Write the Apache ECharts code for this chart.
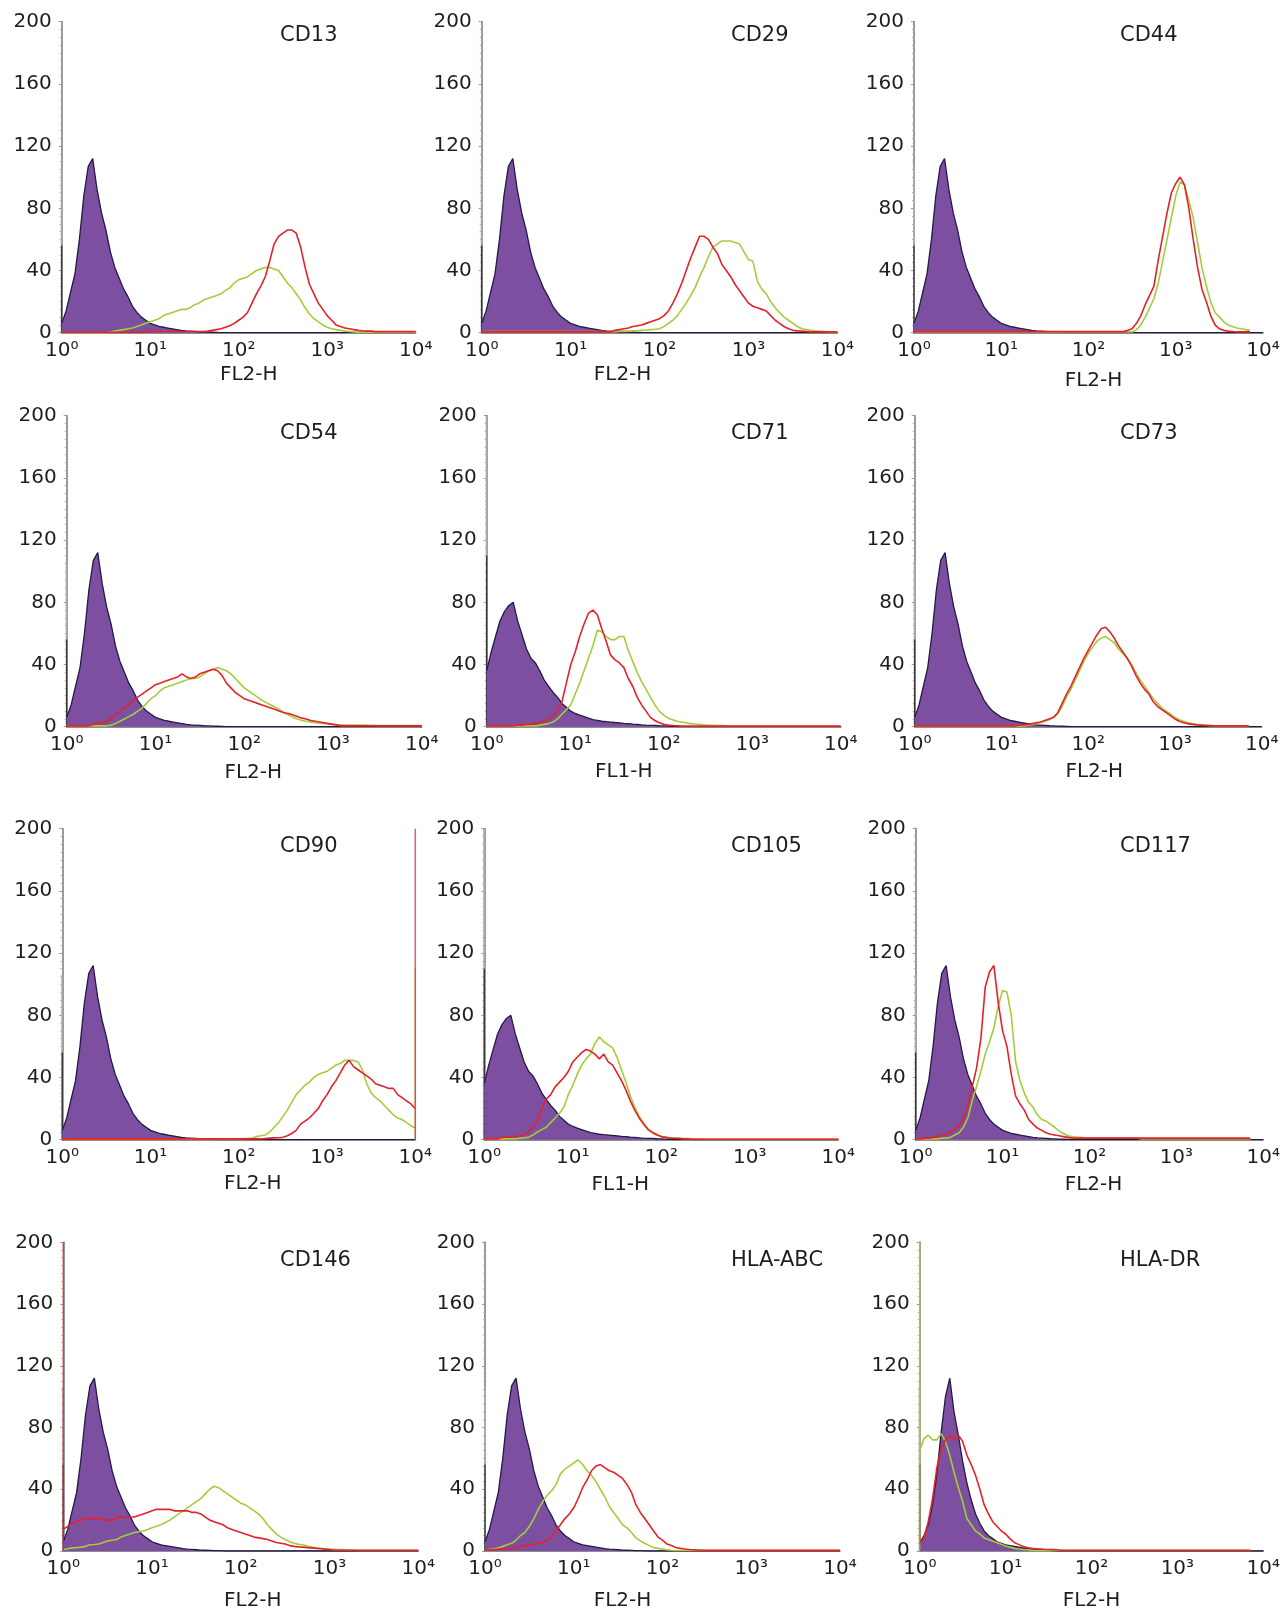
<!DOCTYPE html>
<html>
<head>
<meta charset="utf-8">
<title>Flow cytometry histograms</title>
<script src="https://cdn.jsdelivr.net/npm/echarts@6.0.0/dist/echarts.min.js"></script>
<style>
  html, body { margin: 0; padding: 0; background: #fff; }
  #chart { width: 1283px; height: 1612px; }
</style>
</head>
<body>
<div id="chart"></div>
<script>
// panels, read left to right, top to bottom
const markers = ['CD13', 'CD29', 'CD44', 'CD54', 'CD71', 'CD73', 'CD90', 'CD105', 'CD117', 'CD146', 'HLA-ABC', 'HLA-DR'];
const channels = ['FL2-H', 'FL2-H', 'FL2-H', 'FL2-H', 'FL1-H', 'FL2-H', 'FL2-H', 'FL1-H', 'FL2-H', 'FL2-H', 'FL2-H', 'FL2-H'];
const yTicks = [0, 40, 80, 120, 160, 200];

// channel positions in decades (10^0 .. 10^4), one bin every 0.05 decade
const decades = Array.from({ length: 81 }, (_, i) => +(i * 0.05).toFixed(2));

// isotype controls (purple filled)
const isotypeFL2 = [
  6, 14, 26, 38, 60, 88, 107, 112, 92, 77, 66, 52, 42, 35, 28, 23, 17, 13, 10, 8,
  6, 5, 4, 3.5, 3, 2.5, 2, 1.5, 1.2, 1, 0.8, 0.6, 0.5, 0.4, 0.3, 0.2, 0.1, 0, 0, 0,
  0, 0, 0, 0, 0, 0, 0, 0, 0, 0, 0, 0, 0, 0, 0, 0, 0, 0, 0, 0,
  0, 0, 0, 0, 0, 0, 0, 0, 0, 0, 0, 0, 0, 0, 0, 0, 0, 0, 0, 0,
  0
];
const isotypeFL1 = [
  36, 48, 58, 68, 74, 78, 80, 68, 59, 50, 44, 41, 36, 30, 26, 22, 19, 15, 12.5, 10,
  8.5, 7.5, 6.5, 5.5, 4.5, 4, 3.5, 3.2, 3, 2.7, 2.5, 2.2, 2, 1.7, 1.5, 1.2, 1, 0.9, 0.8, 0.6,
  0.5, 0.4, 0.3, 0.2, 0, 0, 0, 0, 0, 0, 0, 0, 0, 0, 0, 0, 0, 0, 0, 0,
  0, 0, 0, 0, 0, 0, 0, 0, 0, 0, 0, 0, 0, 0, 0, 0, 0, 0, 0, 0,
  0
];
const isotypeDR = [
  5, 10, 17, 30, 50, 77, 100, 112, 90, 75, 58, 44, 33, 24, 18, 13, 10, 8, 6, 5,
  4, 3.5, 3, 2.5, 2, 1.7, 1.5, 1.2, 1, 0.7, 0.5, 0.3, 0, 0, 0, 0, 0, 0, 0, 0,
  0, 0, 0, 0, 0, 0, 0, 0, 0, 0, 0, 0, 0, 0, 0, 0, 0, 0, 0, 0,
  0, 0, 0, 0, 0, 0, 0, 0, 0, 0, 0, 0, 0, 0, 0, 0, 0, 0, 0, 0,
  0
];

// green and red histograms
const greenCD13 = [
  0, 0, 0, 0, 0, 0, 0, 0, 0, 0, 0, 0.5, 1, 1.5, 2, 2.5, 3, 4, 5, 6,
  7, 8, 9, 11, 12, 13, 14, 15, 15, 16, 18, 19, 21, 22, 23, 24, 25, 27, 29, 32,
  34, 35, 36, 38, 40, 41, 42, 42, 41, 40, 36, 32, 29, 25, 21, 16, 12, 9, 7, 5,
  3.5, 2.5, 2, 1.5, 1, 0.8, 0.5, 0.3, 0.3, 0.3, 0.3, 0.3, 0.3, 0.3, 0.3, 0.3, 0.3, 0.3, 0.3, 0.3,
  0.3
];
const redCD13 = [
  0.3, 0.3, 0.3, 0.3, 0.3, 0.3, 0.3, 0.3, 0.3, 0.3, 0.3, 0.3, 0.3, 0.3, 0.3, 0.3, 0.3, 0.3, 0.3, 0.3,
  0.8, 0.8, 0.8, 0.8, 0.8, 0.8, 0.8, 0.8, 0.8, 0.8, 0.8, 0.8, 0.8, 1, 1.5, 2, 2.5, 3.5, 4.5, 6,
  8, 10, 13, 19, 25, 30, 36, 46, 57, 62, 64, 66, 66, 64, 55, 42, 31, 25, 19, 15,
  11, 8, 5, 4, 3, 2.5, 2, 1.5, 1.2, 1, 1, 0.7, 0.7, 0.7, 0.7, 0.7, 0.7, 0.7, 0.7, 0.7,
  0.7
];
const greenCD29 = [
  0.8, 0.8, 0.8, 0.8, 0.8, 0.8, 0.8, 0.8, 0.8, 0.8, 0.8, 0.8, 0.8, 0.8, 0.8, 0.8, 0.8, 0.8, 0.8, 0.8,
  0.8, 0.8, 0.8, 0.8, 0.8, 0.8, 0.8, 0.8, 0.8, 0.8, 0.8, 1, 1, 1, 1.2, 1.3, 1.5, 1.7, 2, 2.2,
  2.5, 4, 6, 8, 11, 15, 19, 24, 29, 36, 42, 49, 55, 57, 59, 59, 59, 58, 57, 52,
  47, 46, 33, 28, 25, 20, 16, 13, 10, 8, 6, 4, 2.5, 2, 1.5, 1.2, 1, 0.8, 0.5, 0.3,
  0.3
];
const redCD29 = [
  0.5, 0.5, 0.5, 0.5, 0.5, 0.5, 0.5, 0.5, 0.5, 0.5, 0.5, 0.5, 0.5, 0.5, 0.5, 0.5, 0.5, 0.5, 0.5, 0.5,
  0.5, 0.5, 0.5, 0.5, 0.5, 0.5, 0.5, 0.5, 0.5, 0.5, 1.5, 2, 2.5, 3, 4, 4.5, 5, 6, 7, 8,
  9, 11, 14, 19, 25, 32, 40, 48, 55, 62, 62, 60, 55, 51, 44, 40, 36, 31, 27, 23,
  19, 17, 16, 15, 14, 11, 8, 6, 4, 2.5, 1.5, 1.2, 1, 0.8, 0.5, 0.5, 0.5, 0.5, 0.5, 0.5,
  0.5
];
const greenCD44 = [
  0.5, 0.5, 0.5, 0.5, 0.5, 0.5, 0.5, 0.5, 0.5, 0.5, 0.5, 0.5, 0.5, 0.5, 0.5, 0.5, 0.5, 0.5, 0.5, 0.5,
  0.5, 0.5, 0.5, 0.5, 0.5, 0.5, 0.5, 0.5, 0.5, 0.5, 0.5, 0.5, 0.5, 0.5, 0.5, 0.5, 0.5, 0.5, 0.5, 0.5,
  0.5, 0.5, 0.5, 0.5, 0.5, 0.5, 0.5, 0.5, 0.5, 0.5, 0.5, 2, 5, 10, 16, 22, 32, 46, 60, 74,
  88, 97, 95, 85, 74, 58, 42, 30, 20, 13, 10, 7, 5, 4, 3, 2.5, 2, 1.5, null, null,
  null
];
const redCD44 = [
  0.7, 0.7, 0.7, 0.7, 0.7, 0.7, 0.7, 0.7, 0.7, 0.7, 0.7, 0.7, 0.7, 0.7, 0.7, 0.7, 0.7, 0.7, 0.7, 0.7,
  0.7, 0.7, 0.7, 0.7, 0.7, 0.7, 0.7, 0.7, 0.7, 0.7, 0.7, 0.7, 0.7, 0.7, 0.7, 0.7, 0.7, 0.7, 0.7, 0.7,
  0.7, 0.7, 0.7, 0.7, 0.7, 0.7, 0.7, 0.7, 0.7, 1.5, 2.5, 6, 11, 18, 24, 30, 47, 62, 77, 90,
  96, 100, 95, 80, 60, 42, 28, 20, 11, 5, 2.5, 1.5, 1, 0.8, 0.5, 0.5, 0.5, 0.5, null, null,
  null
];
const greenCD54 = [
  0.5, 0.5, 0.5, 0.5, 0.5, 0.5, 0.5, 0.5, 0.5, 0.5, 1, 2, 3.5, 5, 6.5, 8, 10, 12, 15, 18,
  20, 23, 25, 26, 27, 28, 29, 30, 31, 31, 32, 34, 36, 37, 38, 37, 36, 34, 31, 28,
  25, 23, 21, 19, 17, 15.5, 14, 12.5, 11, 9, 7.5, 6, 5, 4, 3.5, 3, 2.5, 2.2, 2, 1.7,
  1.5, 1.3, 1.2, 1.1, 1, 1, 1, 1, 0.9, 0.9, 0.8, 0.8, 0.8, 0.8, 0.8, 0.8, 0.8, 0.8, 0.8, 0.8,
  0.8
];
const redCD54 = [
  0.5, 0.5, 0.5, 0.5, 0.5, 0.5, 1.5, 2, 2.5, 3.5, 5, 7.5, 10, 12, 14, 17, 19, 21, 23, 25,
  27, 28, 29, 30, 31, 32, 34, 32, 31, 32, 34, 35, 36, 37, 36, 33, 28, 25, 22, 20,
  18, 17, 16, 15, 14, 13, 12, 11, 10, 9, 8.5, 7.5, 6.5, 5.5, 5, 4, 3.5, 3, 2.5, 2,
  1.5, 1, 0.5, 0.5, 0.5, 0.5, 0.5, 0.5, 0.5, 0.5, 0.5, 0.5, 0.5, 0.5, 0.5, 0.5, 0.5, 0.5, 0.5, 0.5,
  0.5
];
const greenCD71 = [
  0.5, 0.5, 0.5, 0.5, 0.5, 0.5, 0.5, 0.5, 0.5, 0.5, 0.5, 0.5, 1, 1.5, 2, 3, 5, 8, 11, 14,
  21, 28, 36, 44, 52, 62, 61, 58, 56, 56, 58, 58, 49, 42, 35, 29, 24, 19, 14, 10,
  7.5, 5.5, 4.5, 3.5, 3, 2.5, 2, 1.7, 1.5, 1.2, 1, 0.9, 0.8, 0.7, 0.5, 0.3, 0.3, 0.3, 0.3, 0.3,
  0.3, 0.3, 0.3, 0.3, 0.3, 0.3, 0.3, 0.3, 0.3, 0.3, 0.3, 0.3, 0.3, 0.3, 0.3, 0.3, 0.3, 0.3, 0.3, 0.3,
  0.3
];
const redCD71 = [
  0.5, 0.5, 0.5, 0.5, 0.5, 0.5, 0.5, 1, 1, 1.5, 1.5, 2, 2.5, 3.5, 5, 7, 10, 16, 28, 40,
  48, 58, 66, 73, 75, 72, 63, 55, 46, 43, 41, 38, 31, 26, 19, 14, 10, 6, 4, 2.5,
  1.5, 1, 0.8, 0.6, 0.4, 0.4, 0.4, 0.4, 0.4, 0.4, 0.4, 0.4, 0.4, 0.4, 0.4, 0.4, 0.4, 0.4, 0.4, 0.4,
  0.4, 0.4, 0.4, 0.4, 0.4, 0.4, 0.4, 0.4, 0.4, 0.4, 0.4, 0.4, 0.4, 0.4, 0.4, 0.4, 0.4, 0.4, 0.4, 0.4,
  0.4
];
const greenCD73 = [
  0.5, 0.5, 0.5, 0.5, 0.5, 0.5, 0.5, 0.5, 0.5, 0.5, 0.5, 0.5, 0.5, 0.5, 0.5, 0.5, 0.5, 0.5, 0.5, 0.5,
  0.5, 0.5, 0.5, 0.5, 0.5, 0.5, 1, 1.5, 2, 2.5, 3.5, 4.5, 6, 8.5, 13, 19, 24, 30, 36, 42,
  47, 51, 55, 57, 58, 56, 54, 50, 47, 44, 40, 35, 30, 26, 22, 18, 15, 12, 10, 8,
  6, 4.5, 3.5, 2.5, 2, 1.5, 1.2, 1, 1, 0.5, 0.5, 0.5, 0.5, 0.5, 0.5, 0.5, 0.5, 0.5, null, null,
  null
];
const redCD73 = [
  0.5, 0.5, 0.5, 0.5, 0.5, 0.5, 0.5, 0.5, 0.5, 0.5, 0.5, 0.5, 0.5, 0.5, 0.5, 0.5, 0.5, 0.5, 0.5, 0.5,
  0.5, 0.5, 0.5, 0.5, 1, 1.2, 1.5, 2, 2.5, 3, 4, 5, 6, 9, 15, 21, 26, 32, 38, 44,
  49, 54, 59, 63, 64, 61, 57, 52, 48, 44, 39, 33, 28, 24, 21, 16, 13, 11, 9, 7,
  5, 3.5, 2.5, 2, 1.5, 1.2, 1, 0.8, 0.5, 0.5, 0.5, 0.5, 0.5, 0.5, 0.5, 0.5, 0.5, 0.5, null, null,
  null
];
const greenCD90 = [
  0.5, 0.5, 0.5, 0.5, 0.5, 0.5, 0.5, 0.5, 0.5, 0.5, 0.5, 0.5, 0.5, 0.5, 0.5, 0.5, 0.5, 0.5, 0.5, 0.5,
  0.5, 0.5, 0.5, 0.5, 0.5, 0.5, 0.5, 0.5, 0.5, 0.5, 0.5, 0.5, 0.5, 0.5, 0.5, 0.5, 0.5, 0.5, 0.5, 0.5,
  0.5, 0.7, 0.8, 1, 2, 2.5, 3, 5, 8, 11, 15, 19, 24, 29, 32, 35, 37, 40, 42, 43,
  44, 46, 48, 49, 51, 51, 51, 50, 45, 36, 30, 27, 25, 22, 19, 16, 14, 13, 11, 9,
  7.5
];
const redCD90 = [
  0.5, 0.5, 0.5, 0.5, 0.5, 0.5, 0.5, 0.5, 0.5, 0.5, 0.5, 0.5, 0.5, 0.5, 0.5, 0.5, 0.5, 0.5, 0.5, 0.5,
  0.5, 0.5, 0.5, 0.5, 0.5, 0.5, 0.5, 0.5, 0.5, 0.5, 0.5, 0.5, 0.5, 0.5, 0.5, 0.5, 0.5, 0.5, 0.5, 0.5,
  0.5, 0.5, 0.5, 0.5, 0.5, 0.5, 0.8, 1, 1.2, 1.3, 1.5, 2.5, 4, 6, 10, 12, 14, 17, 20, 25,
  29, 34, 38, 43, 48, 51, 47, 45, 43, 41, 39, 36, 35, 34, 33, 33, 29, 27, 25, 23,
  20
];
const greenCD105 = [
  0.5, 0.5, 0.5, 0.5, 0.5, 0.5, 0.5, 0.5, 1, 1.2, 1.5, 3, 5, 6.5, 8, 11, 14, 17, 21, 29,
  35, 42, 48, 52, 55, 62, 66, 63, 61, 59, 53, 45, 37, 28, 21, 15, 11, 7, 5, 3.5,
  2, 1.5, 1.2, 1.1, 1, 0.8, 0.7, 0.6, 0.6, 0.5, 0.3, 0.3, 0.3, 0.3, 0.3, 0.3, 0.3, 0.3, 0.3, 0.3,
  0.3, 0.3, 0.3, 0.3, 0.3, 0.3, 0.3, 0.3, 0.3, 0.3, 0.3, 0.3, 0.3, 0.3, 0.3, 0.3, 0.3, 0.3, 0.3, 0.3,
  0.3
];
const redCD105 = [
  0.5, 0.5, 0.5, 0.5, 1.5, 1.8, 2, 2.2, 2.5, 3.5, 5, 8, 12, 20, 26, 29, 34, 37, 40, 44,
  50, 53, 56, 58, 57, 55, 52, 55, 50, 48, 43, 38, 32, 25, 19, 14, 10, 6.5, 4.5, 3,
  2, 1.5, 1, 0.9, 0.8, 0.6, 0.5, 0.3, 0.3, 0.3, 0.3, 0.3, 0.3, 0.3, 0.3, 0.3, 0.3, 0.3, 0.3, 0.3,
  0.3, 0.3, 0.3, 0.3, 0.3, 0.3, 0.3, 0.3, 0.3, 0.3, 0.3, 0.3, 0.3, 0.3, 0.3, 0.3, 0.3, 0.3, 0.3, 0.3,
  0.3
];
const greenCD117 = [
  0.5, 0.5, 0.5, 0.5, 0.5, 0.5, 1, 1, 1.5, 3, 4.5, 8, 14, 25, 34, 44, 55, 63, 72, 86,
  96, 95, 80, 50, 38, 30, 24, 21, 16, 13, 12, 10, 8, 5.5, 4, 2.5, 2, 1.5, 1.5, 1,
  1, 1, 1, 1, 1, 1, 1, 1, 1, 1, 1, 1, 0.5, 0.5, 0.5, 0.5, 0.5, 0.5, 0.5, 0.5,
  0.5, 0.5, 0.5, 0.5, 0.5, 0.5, 0.5, 0.5, 0.5, 0.5, 0.5, 0.5, 0.5, 0.5, 0.5, 0.5, 0.5, 0.5, null, null,
  null
];
const redCD117 = [
  0.5, 0.5, 1, 1, 1.5, 2, 2.5, 3.5, 5, 7, 9, 14, 22, 34, 46, 65, 98, 108, 112, 88,
  70, 60, 42, 28, 23, 19, 13, 10, 7.5, 6, 4.5, 3.5, 3, 2.5, 2, 1.5, 1, 1, 1, 1,
  1, 1, 1, 1, 1, 1, 1, 1, 1, 1, 1, 1, 1, 1, 1, 1, 1, 1, 1, 1,
  1, 1, 1, 1, 1, 1, 1, 1, 1, 1, 1, 1, 1, 1, 1, 1, 1, 1, null, null,
  null
];
const greenCD146 = [
  1, 1.5, 2, 2.2, 2.5, 3, 4, 4.2, 4.5, 5.5, 6.5, 7, 7.5, 9, 10, 11, 12, 12.5, 13, 14,
  15, 16, 17, 18.5, 20, 22, 24, 26, 28, 30, 32, 34, 37, 40, 42, 41, 39, 37, 35, 33,
  31, 30, 28, 26, 24, 21, 17, 14, 11, 9, 7.5, 6, 5, 4.3, 4, 3.2, 2.5, 2, 1.7, 1.4,
  1.2, 1.1, 1, 0.9, 0.8, 0.6, 0.5, 0.3, 0.3, 0.3, 0.3, 0.3, 0.3, 0.3, 0.3, 0.3, 0.3, 0.3, 0.3, 0.3,
  0.3
];
const redCD146 = [
  14, 16, 18, 19, 20, 21, 21, 21, 21, 20, 20, 20, 21, 22, 22, 22, 22, 23, 24, 25,
  26, 27, 27, 27, 27, 26, 26, 26, 26, 25, 25, 24, 22, 20, 19, 18, 17, 15, 14, 13,
  12, 11, 10, 9, 8.5, 8, 7.5, 6.5, 5.5, 5, 4.5, 3.5, 3, 2.7, 2.5, 2.2, 2, 1.7, 1.5, 1.2,
  1, 0.5, 0.5, 0.5, 0.5, 0.5, 0.5, 0.5, 0.5, 0.5, 0.5, 0.5, 0.5, 0.5, 0.5, 0.5, 0.5, 0.5, 0.5, 0.5,
  0.5
];
const greenHLAABC = [
  0.5, 1, 1.5, 2, 3, 4, 5, 7, 10, 12, 16, 21, 27, 32, 36, 39, 43, 50, 53, 55,
  57, 59, 56, 52, 49, 45, 40, 35, 29, 25, 21, 17, 15, 12, 8.5, 6.5, 5, 3.5, 2.2, 1.7,
  1.2, 0.8, 0.5, 0.3, 0.3, 0.3, 0.3, 0.3, 0.3, 0.3, 0.3, 0.3, 0.3, 0.3, 0.3, 0.3, 0.3, 0.3, 0.3, 0.3,
  0.3, 0.3, 0.3, 0.3, 0.3, 0.3, 0.3, 0.3, 0.3, 0.3, 0.3, 0.3, 0.3, 0.3, 0.3, 0.3, 0.3, 0.3, 0.3, 0.3,
  0.3
];
const redHLAABC = [
  0.5, 0.7, 1, 1.2, 1.5, 1.6, 1.7, 2.3, 3, 3.5, 4, 4.5, 5, 5.5, 7, 9, 13, 17, 21, 24,
  28, 34, 41, 46, 52, 55, 56, 54, 52, 51, 49, 47, 43, 38, 30, 25, 21, 17, 13, 9,
  7, 4.5, 3.5, 2.3, 1.7, 1.3, 1, 0.8, 0.6, 0.4, 0.4, 0.4, 0.4, 0.4, 0.4, 0.4, 0.4, 0.4, 0.4, 0.4,
  0.4, 0.4, 0.4, 0.4, 0.4, 0.4, 0.4, 0.4, 0.4, 0.4, 0.4, 0.4, 0.4, 0.4, 0.4, 0.4, 0.4, 0.4, 0.4, 0.4,
  0.4
];
const greenHLADR = [
  65, 73, 75, 72, 72, 76, 71, 62, 51, 41, 32, 21, 17, 13, 11, 8.5, 7.5, 6.5, 5.4, 4.3,
  3.2, 2.5, 1.7, 1.3, 1, 0.8, 0.5, 0.3, 0.3, 0.3, 0.3, 0.3, 0.3, 0.3, 0.3, 0.3, 0.3, 0.3, 0.3, 0.3,
  0.3, 0.3, 0.3, 0.3, 0.3, 0.3, 0.3, 0.3, 0.3, 0.3, 0.3, 0.3, 0.3, 0.3, 0.3, 0.3, 0.3, 0.3, 0.3, 0.3,
  0.3, 0.3, 0.3, 0.3, 0.3, 0.3, 0.3, 0.3, 0.3, 0.3, 0.3, 0.3, 0.3, 0.3, 0.3, 0.3, 0.3, 0.3, null, null,
  null
];
const redHLADR = [
  4, 8.5, 19, 34, 54, 66, 72, 75, 72, 75, 71, 62, 56, 49, 40, 30, 24, 19, 16, 13,
  11, 8, 5.5, 4.3, 3, 2.2, 1.7, 1.5, 1.3, 1.1, 1, 0.9, 0.8, 0.5, 0.5, 0.5, 0.5, 0.5, 0.5, 0.5,
  0.5, 0.5, 0.5, 0.5, 0.5, 0.5, 0.5, 0.5, 0.5, 0.5, 0.5, 0.5, 0.5, 0.5, 0.5, 0.5, 0.5, 0.5, 0.5, 0.5,
  0.5, 0.5, 0.5, 0.5, 0.5, 0.5, 0.5, 0.5, 0.5, 0.5, 0.5, 0.5, 0.5, 0.5, 0.5, 0.5, 0.5, 0.5, null, null,
  null
];

const controls = [isotypeFL2, isotypeFL2, isotypeFL2, isotypeFL2, isotypeFL1, isotypeFL2,
  isotypeFL2, isotypeFL1, isotypeFL2, isotypeFL2, isotypeFL2, isotypeDR];
const greens = [greenCD13, greenCD29, greenCD44, greenCD54, greenCD71, greenCD73,
  greenCD90, greenCD105, greenCD117, greenCD146, greenHLAABC, greenHLADR];
const reds = [redCD13, redCD29, redCD44, redCD54, redCD71, redCD73,
  redCD90, redCD105, redCD117, redCD146, redHLAABC, redHLADR];

// counts piled up in the first channel (10^0): [light trace, dark trace]
const firstChannel = [[106, 56], [106, 56], [106, 56], [106, 56], [200, 110], [106, 56],
  [106, 56], [200, 110], [106, 56], [106, 56], [106, 56], [106, 56]];
// off-scale pile-ups at the edges: panel, trace, decade, count
const edgeSpikes = [
  ['CD90', 'red', 4, 200],
  ['CD90', 'green', 4, 110],
  ['CD146', 'red', 0, 200],
  ['HLA-DR', 'green', 0, 200]
];

// layout (px)
const gridLeft = [61.7, 481.7, 914, 66.7, 486.7, 914.7, 62.3, 484.3, 915.7, 63.3, 485, 919.7];
const gridWidth = [354, 355.7, 349, 355, 354, 347, 353, 354, 349, 355, 355, 349];
const rowTop = [21.7, 415.7, 828.7, 1242.3];
const plotHeight = 311;
const titleLeft = [280, 731, 1120];
const titleTop = [25, 423, 836, 1250];
const nameGap = [32.5, 32, 38, 36.5, 35, 35, 34, 35, 35, 40, 40, 40];
const nameShift = [10, -37, 5, 9, -40, 6, 14, -41, 4, 12, -40, 0];

const font = 'DejaVu Sans';
const textColor = '#1e1e1e';
const purple = '#7c4fa0';
const outline = '#241a48';
const green = '#a3cd39';
const red = '#e62129';
const sup = ['\u2070', '\u00b9', '\u00b2', '\u00b3', '\u2074'];

const toPoints = counts => decades.map((d, k) => [Math.pow(10, d), counts[k]]);
const spike = (d, count) => [[Math.pow(10, d), 0], [Math.pow(10, d), count]];

const option = {
  animation: false,
  backgroundColor: '#fff',
  title: [],
  grid: [],
  xAxis: [],
  yAxis: [],
  series: []
};

markers.forEach((name, i) => {
  const row = Math.floor(i / 3);
  const col = i % 3;
  const s = nameShift[i];
  option.grid.push({ left: gridLeft[i], top: rowTop[row], width: gridWidth[i], height: plotHeight });
  option.title.push({
    text: name,
    left: titleLeft[col],
    top: titleTop[row],
    padding: 0,
    textStyle: { fontFamily: font, fontSize: 21, fontWeight: 'normal', color: textColor }
  });
  option.xAxis.push({
    gridIndex: i,
    type: 'log',
    logBase: 10,
    min: 1,
    max: 10000,
    name: channels[i],
    nameLocation: 'middle',
    nameGap: nameGap[i],
    nameTextStyle: {
      fontFamily: font, fontSize: 20, color: textColor,
      padding: s >= 0 ? [0, 0, 0, 2 * s] : [0, -2 * s, 0, 0]
    },
    axisLine: { show: true, lineStyle: { color: '#6a6a6a', width: 1.5 } },
    axisTick: { show: false },
    minorTick: { show: false },
    splitLine: { show: false },
    axisLabel: {
      fontFamily: font, fontSize: 20, color: textColor, margin: 8,
      formatter: v => '10' + sup[Math.round(Math.log10(v))]
    }
  });
  option.yAxis.push({
    gridIndex: i,
    type: 'value',
    min: yTicks[0],
    max: yTicks[yTicks.length - 1],
    interval: yTicks[1] - yTicks[0],
    axisLine: { show: true, lineStyle: { color: '#9a9a9a', width: 2 } },
    axisTick: { show: true, length: 3, lineStyle: { color: '#9a9a9a' } },
    minorTick: { show: true, splitNumber: 8, length: 2, lineStyle: { color: '#b5b5b5' } },
    splitLine: { show: false },
    axisLabel: { fontFamily: font, fontSize: 20, color: textColor, margin: 10 }
  });

  const base = { type: 'line', xAxisIndex: i, yAxisIndex: i, symbol: 'none', silent: true };
  option.series.push(Object.assign({}, base, {
    data: spike(decades[0], firstChannel[i][0]),
    lineStyle: { color: '#a8a8a8', width: 2 }, z: 1
  }));
  option.series.push(Object.assign({}, base, {
    data: spike(decades[0], firstChannel[i][1]),
    lineStyle: { color: '#333', width: 1.3 }, z: 1
  }));
  option.series.push(Object.assign({}, base, {
    name: name + ' isotype',
    data: toPoints(controls[i]),
    lineStyle: { color: outline, width: 1.3 },
    areaStyle: { color: purple, opacity: 1 },
    z: 2
  }));
  option.series.push(Object.assign({}, base, {
    name: name + ' green',
    data: toPoints(greens[i]),
    lineStyle: { color: green, width: 1.6 },
    z: 3
  }));
  option.series.push(Object.assign({}, base, {
    name: name + ' red',
    data: toPoints(reds[i]),
    lineStyle: { color: red, width: 1.6 },
    z: 4
  }));
});

edgeSpikes.forEach(([panel, trace, d, count]) => {
  const i = markers.indexOf(panel);
  option.series.push({
    type: 'line', xAxisIndex: i, yAxisIndex: i, symbol: 'none', silent: true,
    data: spike(d, count),
    lineStyle: { color: trace === 'red' ? red : green, width: 1.5, opacity: 0.75 },
    z: trace === 'red' ? 5 : 4
  });
});

const chart = echarts.init(document.getElementById('chart'), null, { renderer: 'canvas' });
chart.setOption(option);
</script>
</body>
</html>
